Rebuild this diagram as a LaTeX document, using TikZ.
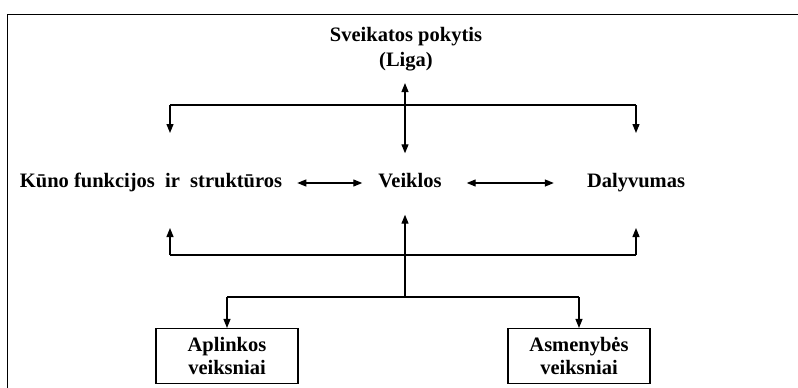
\documentclass[tikz,border=0pt]{standalone}
\usepackage{fontspec}
\setmainfont{Liberation Serif}
\usepackage{tikz}
\usetikzlibrary{arrows.meta,positioning,calc}

\begin{document}
\begin{tikzpicture}[
    x=1pt, y=-1pt,
    lbl/.style={inner sep=0pt, align=center,
      font=\bfseries\fontsize{20.5}{25}\selectfont},
    eile/.style={lbl, text height=14pt, text depth=5pt},
    factor/.style={draw, line width=1.1pt, inner sep=0pt,
      minimum width=142pt, minimum height=55pt, align=center,
      font=\bfseries\fontsize{20.5}{23}\selectfont},
    line/.style={line width=1.2pt},
    arr/.style={-{Triangle[length=9pt,width=7pt]}, line width=1.2pt},
    darr/.style={{Triangle[length=9pt,width=7pt]}-{Triangle[length=9pt,width=7pt]}, line width=1.2pt}
]
\useasboundingbox (0,0) rectangle (798,388);

% --- Remelis ---
\draw[line width=1pt] (7,388) -- (7,14) -- (798,14);

% --- Pagrindiniai mazgai ---
\node[lbl] (liga) at (406,49) {Sveikatos pokytis\\(Liga)};
\node[eile] (veik) at (410,183) {Veiklos};
\node[eile] (kuno) at (151,183) {K\={u}no funkcijos\ \ ir\ \ strukt\={u}ros};
\node[eile] (daly) at (636,183) {Dalyvumas};

% --- Veiksniai (apatiniai blokai) ---
\node[factor] (aplink) at (227,356) {Aplinkos\\veiksniai};
\node[factor] (asmen) at (579,356) {Asmenyb\.{e}s\\veiksniai};

% --- Magistrales ---
\coordinate (virsL) at (170,105);
\coordinate (virsR) at (636,105);
\coordinate (apacL) at (170,255);
\coordinate (apacR) at (636,255);
\coordinate (mazg) at (405,297);

% --- Virsutinis skirstymas ---
\draw[line] (virsL) -- (virsR);
\draw[arr] (virsL) -- ($(virsL)+(0,28)$);
\draw[arr] (virsR) -- ($(virsR)+(0,28)$);
\draw[darr] ([yshift=-12pt]liga.south -| mazg) -- ([yshift=20pt]veik.north -| mazg);

% --- Vidurine eile ---
\draw[darr, shorten <=15pt, shorten >=16pt] (kuno.east) -- (veik.west);
\draw[darr, shorten <=25pt, shorten >=33pt] (veik.east) -- (daly.west);

% --- Apatinis grizimas ---
\draw[line] (apacL) -- (apacR);
\draw[arr] (apacL) -- ($(apacL)+(0,-27)$);
\draw[arr] (apacR) -- ($(apacR)+(0,-27)$);
\draw[arr] (mazg) -- ([yshift=-22pt]veik.south -| mazg);

% --- Veiksniu sakos ---
\draw[line] (aplink.north |- mazg) -- (asmen.north |- mazg);
\draw[arr] (aplink.north |- mazg) -- (aplink.north);
\draw[arr] (asmen.north |- mazg) -- (asmen.north);
\end{tikzpicture}
\end{document}
